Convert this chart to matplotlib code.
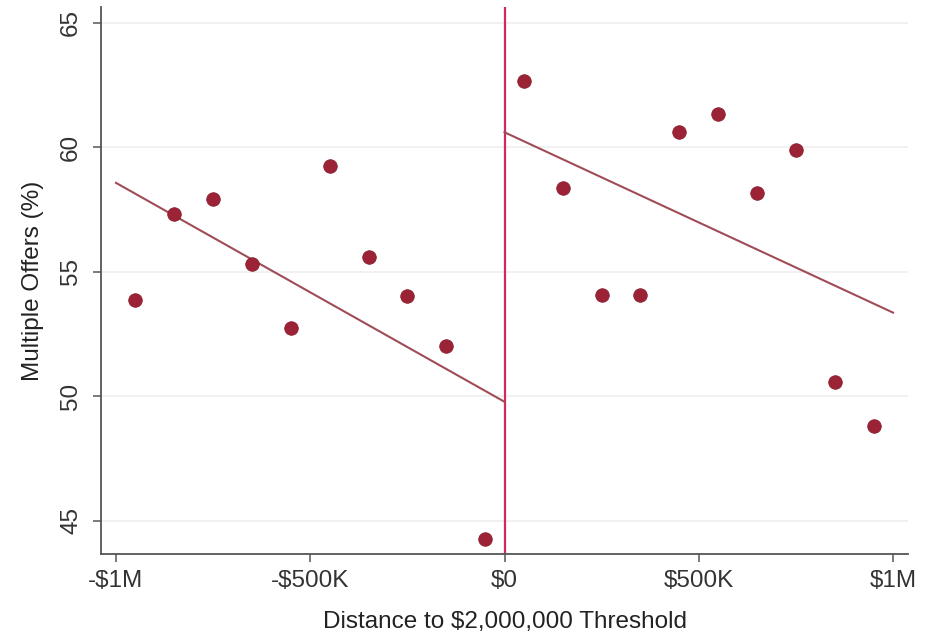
import numpy as np
import matplotlib.pyplot as plt

# Bin centres (distance to threshold, in $M) and binned means (%)
left_x = [-0.95, -0.85, -0.75, -0.65, -0.55, -0.45, -0.35, -0.25, -0.15, -0.05]
left_y = [53.86, 57.32, 57.94, 55.30, 52.73, 59.25, 55.60, 54.04, 52.03, 44.28]
right_x = [0.05, 0.15, 0.25, 0.35, 0.45, 0.55, 0.65, 0.75, 0.85, 0.95]
right_y = [62.67, 58.36, 54.05, 54.07, 60.60, 61.35, 58.17, 59.89, 50.57, 48.82]

# Fitted lines (endpoints)
fit_left_x = [-1.0, 0.0]
fit_left_y = [58.57, 49.78]
fit_right_x = [0.0, 1.0]
fit_right_y = [60.60, 53.36]

xticks = [-1.0, -0.5, 0.0, 0.5, 1.0]
xtick_labels = ["-$1M", "-$500K", "$0", "$500K", "$1M"]
yticks = [45, 50, 55, 60, 65]

plt.rcParams['font.family'] = ['Liberation Sans', 'DejaVu Sans']

fig = plt.figure(figsize=(9.34, 6.34), dpi=100)
ax = fig.add_axes([0.1081, 0.1262, 0.8641, 0.8628])

dot_color = '#9b2335'
fit_color = '#a04c58'
cut_color = '#cf2a5c'

ax.axvline(0, color=cut_color, lw=1.6, zorder=2)
ax.plot(fit_left_x, fit_left_y, color=fit_color, lw=1.5, zorder=3)
ax.plot(fit_right_x, fit_right_y, color=fit_color, lw=1.5, zorder=3)
ax.scatter(left_x, left_y, s=95, color=dot_color, edgecolors='#8a1f2e', linewidths=0.6, zorder=4)
ax.scatter(right_x, right_y, s=95, color=dot_color, edgecolors='#8a1f2e', linewidths=0.6, zorder=4)

ax.set_xlim(-1.0386, 1.0386)
ax.set_ylim(43.67, 65.63)
ax.set_xticks(xticks)
ax.set_xticklabels(xtick_labels)
ax.set_yticks(yticks)

ax.grid(axis='y', color='#efefef', lw=1.2)
ax.set_axisbelow(True)

for side in ['top', 'right']:
    ax.spines[side].set_visible(False)
for side in ['left', 'bottom']:
    ax.spines[side].set_color('#555555')
    ax.spines[side].set_linewidth(1.3)

ax.tick_params(axis='both', labelsize=17.5, colors='#555555', labelcolor='#333333',
               length=5.5, width=1.1)
ax.tick_params(axis='x', pad=6)
ax.tick_params(axis='y', pad=8)
plt.setp(ax.get_yticklabels(), rotation=90, va='center')

ax.set_xlabel("Distance to $2,000,000 Threshold", fontsize=17.5, color='#222222', labelpad=14)
ax.set_ylabel("Multiple Offers (%)", fontsize=17.5, color='#222222', labelpad=12)

fig.savefig('out.png', dpi=100)
